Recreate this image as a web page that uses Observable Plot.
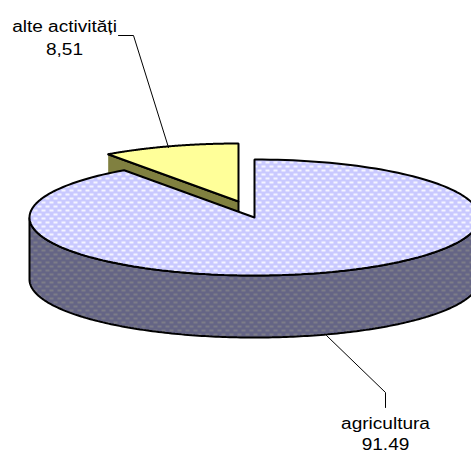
<!DOCTYPE html>
<html>
<head>
<meta charset="utf-8">
<script src="https://cdn.jsdelivr.net/npm/d3@7"></script>
<script src="https://cdn.jsdelivr.net/npm/@observablehq/plot@0.6"></script>
<style>html,body{margin:0;padding:0;background:#fff;overflow:hidden}svg{display:block}</style>
</head>
<body>
<div id="chart"></div>
<script>
// data
const categories = ["agricultura", "alte activități"];
const values = [91.49, 8.51];
const valueLabels = ["91.49", "8,51"];

// 3-D pie projection settings
const W = 471, H = 453;
const cx = 254, cy = 217, rx = 225, ry = 58, depth = 62;
const explode = {dx: -16, dy: -16};
const perspective = 1.2;

// slice angles come from the values (clockwise from 12 o'clock)
const total = d3.sum(values);
let acc = 0;
const slices = categories.map((name, i) => {
  const a0 = acc / total * 2 * Math.PI;
  acc += values[i];
  return {name, a0, a1: acc / total * 2 * Math.PI, ox: i ? explode.dx : 0, oy: i ? explode.dy : 0};
});
// perspective bends projected angles around 12 o'clock
const warp = a => {
  const s = Math.sin(a), c = Math.cos(a);
  return Math.atan2(s * (c > 0 ? perspective : 1), c);
};
const rim = (s, a, drop = 0) => {
  const w = warp(a);
  return {x: cx + s.ox + rx * Math.sin(w), y: cy + s.oy - ry * Math.cos(w) + drop};
};
const apex = (s, drop = 0) => ({x: cx + s.ox, y: cy + s.oy + drop});
const arc = (s, a0, a1, drop = 0, n = 200) =>
  d3.range(n + 1).map(k => rim(s, a0 + (a1 - a0) * k / n, drop));

const big = slices[0], small = slices[1];
const topOf = s => [apex(s), ...arc(s, s.a0, s.a1), apex(s)];
// side wall of the big slice: the front half of the rim, pulled down by the depth
const wallBig = [...arc(big, Math.PI / 2, 3 * Math.PI / 2), ...arc(big, 3 * Math.PI / 2, Math.PI / 2, depth)];
// cut faces of the small slice facing the viewer
const cutSmall = [rim(small, small.a0), apex(small), apex(small, depth), rim(small, small.a0, depth)];

const poly = (pts, fill) => Plot.line(pts, {x: "x", y: "y", fill, stroke: "#000", strokeWidth: 2, strokeLinejoin: "miter", curve: "linear"});

const defs = () => {
  const ns = "http://www.w3.org/2000/svg";
  const g = document.createElementNS(ns, "defs");
  const mk = (id, base, dash) => {
    g.innerHTML += `<pattern id="${id}" width="8" height="8" patternUnits="userSpaceOnUse">
      <rect width="8" height="8" fill="${base}"/>
      <rect x="1" y="1" width="4" height="2" fill="${dash}"/>
      <rect x="5" y="5" width="3" height="2" fill="${dash}"/>
      <rect x="0" y="5" width="1" height="2" fill="${dash}"/>
    </pattern>`;
  };
  mk("patTop", "#c9c9ff", "#f4f4ff");
  mk("patWall", "#656585", "#7d7d88");
  return g;
};

const leaders = [
  [{x: 118, y: 35}, {x: 133, y: 35}, {x: 168, y: 147}],
  [{x: 326, y: 335}, {x: 385, y: 392}, {x: 385, y: 407}]
];
const labelRows = [
  {t: categories[1], x: 64, y: 26}, {t: valueLabels[1], x: 64, y: 49},
  {t: categories[0], x: 385, y: 423}, {t: valueLabels[0], x: 385, y: 444.5}
];

const chart = Plot.plot({
  width: W, height: H, margin: 0,
  x: {domain: [0, W], range: [0, W], axis: null},
  y: {domain: [0, H], range: [0, H], axis: null},
  marks: [
    defs,
    poly(cutSmall, "#808040"),
    poly(topOf(small), "#ffff99"),
    poly(wallBig, "url(#patWall)"),
    poly(topOf(big), "url(#patTop)"),
    ...leaders.map(l => Plot.line(l, {x: "x", y: "y", stroke: "#000", strokeWidth: 1})),
    Plot.text(labelRows, {x: "x", y: "y", text: "t", fontFamily: "Liberation Sans", fontSize: 16, fill: "#000", textAnchor: "middle"})
  ]
});
document.getElementById("chart").append(chart);
// the reference's labels are stretched horizontally with the picture
chart.querySelectorAll("text").forEach(t => {
  t.setAttribute("textLength", t.getComputedTextLength() * 1.19);
  t.setAttribute("lengthAdjust", "spacingAndGlyphs");
});
</script>
</body>
</html>
